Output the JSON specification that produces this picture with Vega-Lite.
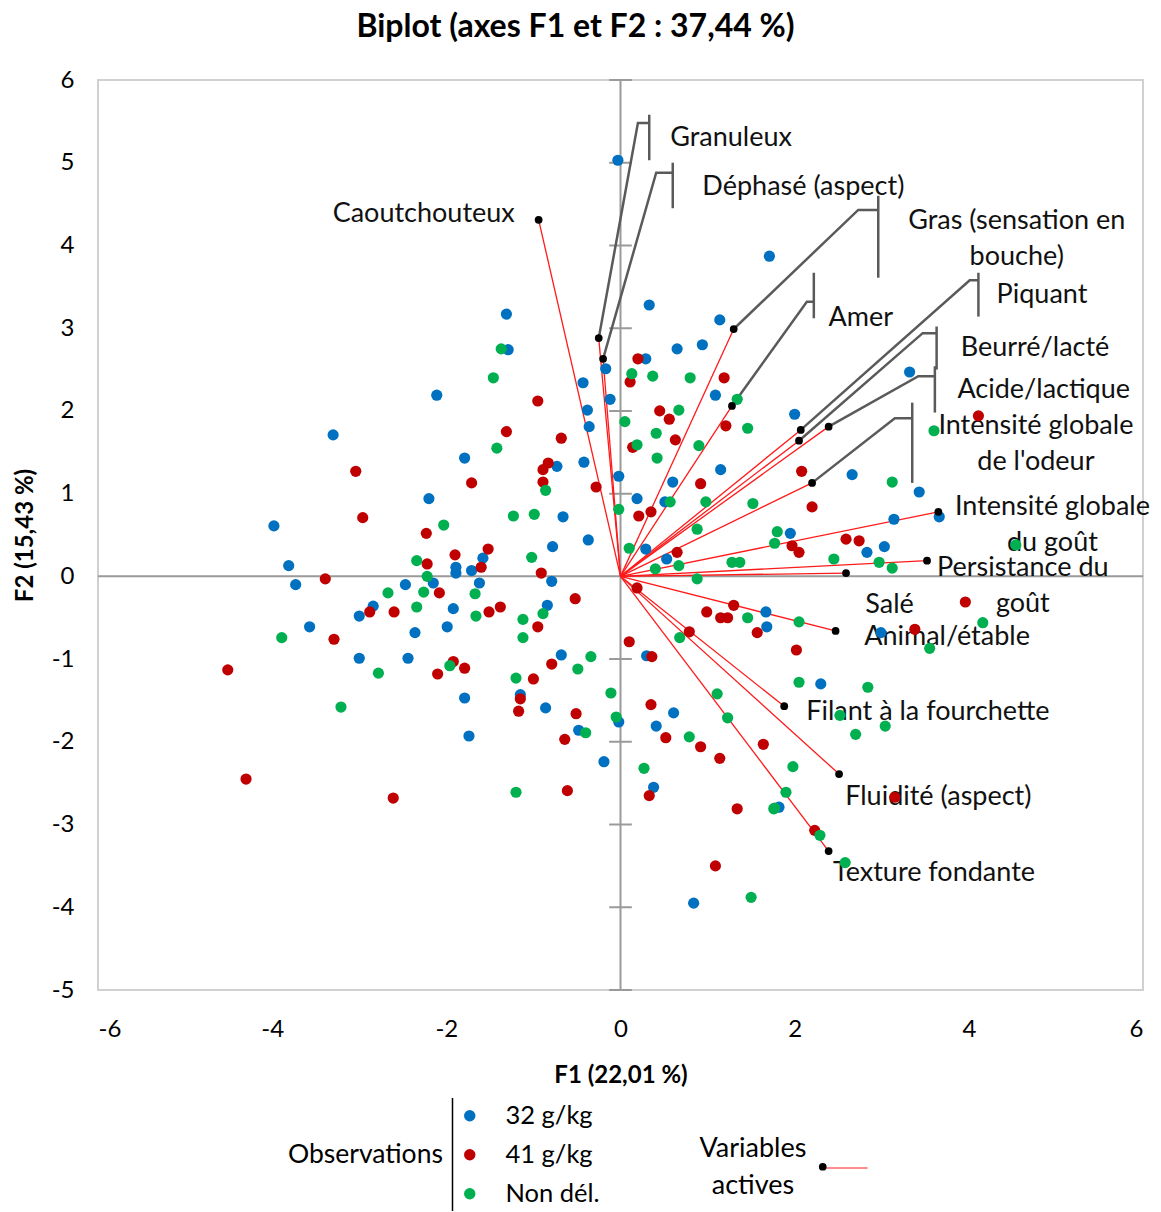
{
  "$schema": "https://vega.github.io/schema/vega-lite/v6.json",
  "width": 1045,
  "height": 910,
  "autosize": {"type": "none"},
  "padding": {"left": 98, "top": 80, "right": 18, "bottom": 222},
  "title": {"text": "Biplot (axes F1 et F2 : 37,44 %)", "font": "Lato", "fontSize": 32, "fontWeight": "bold", "color": "#000", "anchor": "middle", "frame": "group", "offset": 24, "dx": -45},
  "config": {
    "view": {"stroke": "#d0d0d0", "strokeWidth": 2},
    "axis": {"grid": false, "domain": false, "ticks": false, "labelFont": "Lato", "labelFontSize": 24, "labelColor": "#000", "titleFont": "Lato", "titleFontSize": 24, "titleFontWeight": "bold", "titleColor": "#000", "labelPadding": 24, "labelExpr": "'' + datum.value"},
    "axisX": {"titlePadding": 22, "labelPadding": 27},
    "axisY": {"titlePadding": 14},
    "legend": {"labelFont": "Lato", "titleFont": "Lato", "labelFontSize": 25.5, "titleFontSize": 26.5, "titleFontWeight": "normal", "labelColor": "#000", "titleColor": "#000", "padding": 0}
  },
  "datasets": {
    "obs": [
      {"g":"32 g/kg","x":-0.03,"y":5.03},{"g":"32 g/kg","x":0.33,"y":3.28},{"g":"32 g/kg","x":1.71,"y":3.87},{"g":"32 g/kg","x":-1.31,"y":3.17},{"g":"32 g/kg","x":-1.29,"y":2.74},{"g":"32 g/kg","x":-3.30,"y":1.71},{"g":"32 g/kg","x":-2.11,"y":2.19},{"g":"32 g/kg","x":1.14,"y":3.10},{"g":"32 g/kg","x":0.65,"y":2.75},{"g":"32 g/kg","x":0.94,"y":2.80},{"g":"32 g/kg","x":0.29,"y":2.63},{"g":"32 g/kg","x":-0.17,"y":2.51},{"g":"32 g/kg","x":-0.43,"y":2.34},{"g":"32 g/kg","x":-0.12,"y":2.14},{"g":"32 g/kg","x":-0.38,"y":2.01},{"g":"32 g/kg","x":-0.36,"y":1.81},{"g":"32 g/kg","x":1.09,"y":2.19},{"g":"32 g/kg","x":2.00,"y":1.96},{"g":"32 g/kg","x":3.32,"y":2.47},{"g":"32 g/kg","x":1.15,"y":1.29},{"g":"32 g/kg","x":-0.73,"y":1.33},{"g":"32 g/kg","x":-0.42,"y":1.38},{"g":"32 g/kg","x":-0.02,"y":1.21},{"g":"32 g/kg","x":0.19,"y":0.94},{"g":"32 g/kg","x":0.60,"y":1.14},{"g":"32 g/kg","x":2.66,"y":1.23},{"g":"32 g/kg","x":3.43,"y":1.02},{"g":"32 g/kg","x":3.66,"y":0.72},{"g":"32 g/kg","x":3.14,"y":0.69},{"g":"32 g/kg","x":1.95,"y":0.52},{"g":"32 g/kg","x":2.83,"y":0.29},{"g":"32 g/kg","x":3.03,"y":0.36},{"g":"32 g/kg","x":0.51,"y":0.90},{"g":"32 g/kg","x":0.29,"y":0.33},{"g":"32 g/kg","x":0.53,"y":0.21},{"g":"32 g/kg","x":-0.66,"y":0.72},{"g":"32 g/kg","x":-0.37,"y":0.44},{"g":"32 g/kg","x":-0.78,"y":0.36},{"g":"32 g/kg","x":-0.79,"y":-0.06},{"g":"32 g/kg","x":-1.79,"y":1.43},{"g":"32 g/kg","x":-2.20,"y":0.94},{"g":"32 g/kg","x":-3.98,"y":0.61},{"g":"32 g/kg","x":-1.58,"y":0.22},{"g":"32 g/kg","x":-1.89,"y":0.11},{"g":"32 g/kg","x":-1.89,"y":0.04},{"g":"32 g/kg","x":-1.71,"y":0.07},{"g":"32 g/kg","x":-3.81,"y":0.13},{"g":"32 g/kg","x":-3.73,"y":-0.10},{"g":"32 g/kg","x":-2.15,"y":-0.08},{"g":"32 g/kg","x":-2.47,"y":-0.10},{"g":"32 g/kg","x":-1.62,"y":-0.08},{"g":"32 g/kg","x":-2.84,"y":-0.36},{"g":"32 g/kg","x":-3.00,"y":-0.48},{"g":"32 g/kg","x":-1.92,"y":-0.39},{"g":"32 g/kg","x":-3.57,"y":-0.61},{"g":"32 g/kg","x":-1.99,"y":-0.61},{"g":"32 g/kg","x":-2.36,"y":-0.68},{"g":"32 g/kg","x":-3.00,"y":-0.99},{"g":"32 g/kg","x":-2.44,"y":-0.99},{"g":"32 g/kg","x":-1.79,"y":-1.47},{"g":"32 g/kg","x":-1.74,"y":-1.93},{"g":"32 g/kg","x":-0.84,"y":-0.35},{"g":"32 g/kg","x":1.67,"y":-0.43},{"g":"32 g/kg","x":1.68,"y":-0.61},{"g":"32 g/kg","x":-0.68,"y":-0.95},{"g":"32 g/kg","x":0.30,"y":-0.96},{"g":"32 g/kg","x":-1.15,"y":-1.43},{"g":"32 g/kg","x":-0.86,"y":-1.59},{"g":"32 g/kg","x":-0.02,"y":-1.76},{"g":"32 g/kg","x":-0.48,"y":-1.86},{"g":"32 g/kg","x":0.61,"y":-1.65},{"g":"32 g/kg","x":0.41,"y":-1.81},{"g":"32 g/kg","x":-0.19,"y":-2.24},{"g":"32 g/kg","x":0.38,"y":-2.55},{"g":"32 g/kg","x":0.84,"y":-3.95},{"g":"32 g/kg","x":2.99,"y":-0.68},{"g":"32 g/kg","x":2.30,"y":-1.30},{"g":"32 g/kg","x":1.82,"y":-2.79},
      {"g":"41 g/kg","x":0.20,"y":2.63},{"g":"41 g/kg","x":0.11,"y":2.35},{"g":"41 g/kg","x":1.19,"y":2.40},{"g":"41 g/kg","x":-0.95,"y":2.12},{"g":"41 g/kg","x":0.45,"y":2.00},{"g":"41 g/kg","x":0.56,"y":1.90},{"g":"41 g/kg","x":1.21,"y":1.82},{"g":"41 g/kg","x":-1.31,"y":1.75},{"g":"41 g/kg","x":-0.68,"y":1.67},{"g":"41 g/kg","x":0.63,"y":1.65},{"g":"41 g/kg","x":0.14,"y":1.56},{"g":"41 g/kg","x":-0.83,"y":1.37},{"g":"41 g/kg","x":-0.89,"y":1.29},{"g":"41 g/kg","x":-0.89,"y":1.14},{"g":"41 g/kg","x":0.92,"y":1.12},{"g":"41 g/kg","x":-0.28,"y":1.08},{"g":"41 g/kg","x":0.21,"y":0.73},{"g":"41 g/kg","x":0.35,"y":0.78},{"g":"41 g/kg","x":0.65,"y":0.29},{"g":"41 g/kg","x":-1.52,"y":0.33},{"g":"41 g/kg","x":-0.91,"y":0.04},{"g":"41 g/kg","x":0.19,"y":-0.14},{"g":"41 g/kg","x":-3.04,"y":1.27},{"g":"41 g/kg","x":-1.71,"y":1.13},{"g":"41 g/kg","x":-2.96,"y":0.71},{"g":"41 g/kg","x":-2.23,"y":0.52},{"g":"41 g/kg","x":-1.90,"y":0.26},{"g":"41 g/kg","x":-2.22,"y":0.15},{"g":"41 g/kg","x":-1.60,"y":0.11},{"g":"41 g/kg","x":-3.39,"y":-0.03},{"g":"41 g/kg","x":-2.08,"y":-0.20},{"g":"41 g/kg","x":-2.88,"y":-0.43},{"g":"41 g/kg","x":-2.60,"y":-0.43},{"g":"41 g/kg","x":-1.51,"y":-0.43},{"g":"41 g/kg","x":-1.38,"y":-0.37},{"g":"41 g/kg","x":-3.29,"y":-0.76},{"g":"41 g/kg","x":-4.51,"y":-1.13},{"g":"41 g/kg","x":-1.92,"y":-1.03},{"g":"41 g/kg","x":-1.79,"y":-1.11},{"g":"41 g/kg","x":-2.10,"y":-1.18},{"g":"41 g/kg","x":-4.30,"y":-2.45},{"g":"41 g/kg","x":-2.61,"y":-2.68},{"g":"41 g/kg","x":-0.52,"y":-0.27},{"g":"41 g/kg","x":-0.95,"y":-0.61},{"g":"41 g/kg","x":-1.00,"y":-1.24},{"g":"41 g/kg","x":-1.15,"y":-1.48},{"g":"41 g/kg","x":-1.17,"y":-1.63},{"g":"41 g/kg","x":-0.51,"y":-1.66},{"g":"41 g/kg","x":-0.64,"y":-1.97},{"g":"41 g/kg","x":0.36,"y":-0.97},{"g":"41 g/kg","x":0.35,"y":-1.55},{"g":"41 g/kg","x":0.52,"y":-1.95},{"g":"41 g/kg","x":0.92,"y":-2.06},{"g":"41 g/kg","x":1.14,"y":-2.20},{"g":"41 g/kg","x":1.64,"y":-2.03},{"g":"41 g/kg","x":0.33,"y":-2.65},{"g":"41 g/kg","x":-0.61,"y":-2.59},{"g":"41 g/kg","x":1.34,"y":-2.81},{"g":"41 g/kg","x":1.09,"y":-3.50},{"g":"41 g/kg","x":1.30,"y":-0.35},{"g":"41 g/kg","x":0.99,"y":-0.43},{"g":"41 g/kg","x":1.15,"y":-0.50},{"g":"41 g/kg","x":1.23,"y":-0.50},{"g":"41 g/kg","x":1.57,"y":-0.68},{"g":"41 g/kg","x":0.79,"y":-0.67},{"g":"41 g/kg","x":0.10,"y":-0.79},{"g":"41 g/kg","x":-0.79,"y":-1.06},{"g":"41 g/kg","x":4.11,"y":1.94},{"g":"41 g/kg","x":2.08,"y":1.27},{"g":"41 g/kg","x":2.20,"y":0.84},{"g":"41 g/kg","x":1.97,"y":0.37},{"g":"41 g/kg","x":2.05,"y":0.29},{"g":"41 g/kg","x":2.59,"y":0.45},{"g":"41 g/kg","x":2.74,"y":0.43},{"g":"41 g/kg","x":3.96,"y":-0.31},{"g":"41 g/kg","x":3.38,"y":-0.64},{"g":"41 g/kg","x":2.02,"y":-0.89},{"g":"41 g/kg","x":3.15,"y":-2.67},{"g":"41 g/kg","x":2.23,"y":-3.07},
      {"g":"Non dél.","x":-1.37,"y":2.75},{"g":"Non dél.","x":-1.46,"y":2.40},{"g":"Non dél.","x":-1.42,"y":1.55},{"g":"Non dél.","x":-2.03,"y":0.62},{"g":"Non dél.","x":-2.34,"y":0.19},{"g":"Non dél.","x":-2.22,"y":0.00},{"g":"Non dél.","x":-2.26,"y":-0.19},{"g":"Non dél.","x":-2.67,"y":-0.20},{"g":"Non dél.","x":-1.67,"y":-0.21},{"g":"Non dél.","x":-2.34,"y":-0.37},{"g":"Non dél.","x":-1.66,"y":-0.48},{"g":"Non dél.","x":-3.89,"y":-0.74},{"g":"Non dél.","x":-2.78,"y":-1.17},{"g":"Non dél.","x":-1.96,"y":-1.08},{"g":"Non dél.","x":-3.21,"y":-1.58},{"g":"Non dél.","x":0.13,"y":2.45},{"g":"Non dél.","x":0.37,"y":2.42},{"g":"Non dél.","x":0.80,"y":2.40},{"g":"Non dél.","x":1.34,"y":2.14},{"g":"Non dél.","x":0.67,"y":2.01},{"g":"Non dél.","x":0.05,"y":1.87},{"g":"Non dél.","x":1.46,"y":1.79},{"g":"Non dél.","x":0.41,"y":1.73},{"g":"Non dél.","x":0.19,"y":1.59},{"g":"Non dél.","x":0.90,"y":1.58},{"g":"Non dél.","x":0.42,"y":1.43},{"g":"Non dél.","x":-0.86,"y":1.04},{"g":"Non dél.","x":1.52,"y":0.88},{"g":"Non dél.","x":0.57,"y":0.90},{"g":"Non dél.","x":0.98,"y":0.90},{"g":"Non dél.","x":-0.02,"y":0.81},{"g":"Non dél.","x":-1.23,"y":0.73},{"g":"Non dél.","x":-0.99,"y":0.75},{"g":"Non dél.","x":0.88,"y":0.57},{"g":"Non dél.","x":1.80,"y":0.54},{"g":"Non dél.","x":1.77,"y":0.40},{"g":"Non dél.","x":-1.02,"y":0.23},{"g":"Non dél.","x":0.10,"y":0.34},{"g":"Non dél.","x":0.40,"y":0.09},{"g":"Non dél.","x":0.67,"y":0.13},{"g":"Non dél.","x":1.28,"y":0.17},{"g":"Non dél.","x":1.37,"y":0.17},{"g":"Non dél.","x":0.88,"y":-0.03},{"g":"Non dél.","x":-0.89,"y":-0.45},{"g":"Non dél.","x":-1.12,"y":-0.52},{"g":"Non dél.","x":-1.12,"y":-0.74},{"g":"Non dél.","x":1.46,"y":-0.50},{"g":"Non dél.","x":0.68,"y":-0.74},{"g":"Non dél.","x":-0.34,"y":-0.97},{"g":"Non dél.","x":-0.49,"y":-1.12},{"g":"Non dél.","x":-1.20,"y":-1.23},{"g":"Non dél.","x":-0.11,"y":-1.41},{"g":"Non dél.","x":-0.05,"y":-1.70},{"g":"Non dél.","x":-0.40,"y":-1.89},{"g":"Non dél.","x":0.79,"y":-1.94},{"g":"Non dél.","x":1.11,"y":-1.42},{"g":"Non dél.","x":1.23,"y":-1.71},{"g":"Non dél.","x":0.27,"y":-2.32},{"g":"Non dél.","x":-1.20,"y":-2.61},{"g":"Non dél.","x":1.76,"y":-2.81},{"g":"Non dél.","x":1.50,"y":-3.88},{"g":"Non dél.","x":3.60,"y":1.76},{"g":"Non dél.","x":3.12,"y":1.14},{"g":"Non dél.","x":2.45,"y":0.21},{"g":"Non dél.","x":2.97,"y":0.17},{"g":"Non dél.","x":3.12,"y":0.10},{"g":"Non dél.","x":4.54,"y":0.38},{"g":"Non dél.","x":2.05,"y":-0.55},{"g":"Non dél.","x":4.16,"y":-0.56},{"g":"Non dél.","x":3.55,"y":-0.87},{"g":"Non dél.","x":2.05,"y":-1.28},{"g":"Non dél.","x":2.84,"y":-1.34},{"g":"Non dél.","x":2.52,"y":-1.68},{"g":"Non dél.","x":3.04,"y":-1.81},{"g":"Non dél.","x":2.70,"y":-1.91},{"g":"Non dél.","x":1.98,"y":-2.30},{"g":"Non dél.","x":1.90,"y":-2.61},{"g":"Non dél.","x":1.77,"y":-2.80},{"g":"Non dél.","x":2.29,"y":-3.13},{"g":"Non dél.","x":2.58,"y":-3.46}
    ],
    "vars": [
      {"name":"Caoutchouteux","x":-0.94,"y":4.31,"lx":-2.26,"ly":4.38},
      {"name":"Granuleux","x":-0.25,"y":2.88,"lx":1.27,"ly":5.30},
      {"name":"Déphasé (aspect)","x":-0.20,"y":2.63,"lx":2.10,"ly":4.71},
      {"name":"Gras (sensation en\nbouche)","x":1.30,"y":2.99,"lx":4.55,"ly":4.30},
      {"name":"Amer","x":1.28,"y":2.06,"lx":2.76,"ly":3.12},
      {"name":"Piquant","x":2.07,"y":1.77,"lx":4.84,"ly":3.40},
      {"name":"Beurré/lacté","x":2.05,"y":1.64,"lx":4.76,"ly":2.76},
      {"name":"Acide/lactique","x":2.39,"y":1.81,"lx":4.86,"ly":2.25},
      {"name":"Intensité globale\nde l'odeur","x":2.20,"y":1.13,"lx":4.77,"ly":1.82},
      {"name":"Intensité globale\ndu goût","x":3.65,"y":0.78,"lx":4.96,"ly":0.84},
      {"name":"Persistance du\ngoût","x":3.52,"y":0.19,"lx":4.62,"ly":0.10},
      {"name":"Salé","x":2.59,"y":0.04,"lx":3.09,"ly":-0.35},
      {"name":"Animal/étable","x":2.47,"y":-0.66,"lx":3.75,"ly":-0.73},
      {"name":"Filant à la fourchette","x":1.88,"y":-1.57,"lx":3.53,"ly":-1.64},
      {"name":"Fluidité (aspect)","x":2.51,"y":-2.39,"lx":3.65,"ly":-2.67},
      {"name":"Texture fondante","x":2.39,"y":-3.32,"lx":3.60,"ly":-3.59}
    ],
    "leaders": [
      {"v":"Granuleux","o":1,"x":-0.25,"y":2.88},{"v":"Granuleux","o":2,"x":0.20,"y":5.48},{"v":"Granuleux","o":3,"x":0.33,"y":5.48},
      {"v":"Déphasé","o":1,"x":-0.20,"y":2.63},{"v":"Déphasé","o":2,"x":0.41,"y":4.88},{"v":"Déphasé","o":3,"x":0.60,"y":4.88},
      {"v":"Gras","o":1,"x":1.30,"y":2.99},{"v":"Gras","o":2,"x":2.73,"y":4.43},{"v":"Gras","o":3,"x":2.96,"y":4.43},
      {"v":"Amer","o":1,"x":1.28,"y":2.06},{"v":"Amer","o":2,"x":2.14,"y":3.32},{"v":"Amer","o":3,"x":2.22,"y":3.32},
      {"v":"Piquant","o":1,"x":2.07,"y":1.77},{"v":"Piquant","o":2,"x":4.01,"y":3.58},{"v":"Piquant","o":3,"x":4.11,"y":3.58},
      {"v":"Beurré","o":1,"x":2.05,"y":1.64},{"v":"Beurré","o":2,"x":3.47,"y":2.94},{"v":"Beurré","o":3,"x":3.63,"y":2.94},
      {"v":"Acide","o":1,"x":2.39,"y":1.81},{"v":"Acide","o":2,"x":3.42,"y":2.42},{"v":"Acide","o":3,"x":3.61,"y":2.42},
      {"v":"Odeur","o":1,"x":2.20,"y":1.13},{"v":"Odeur","o":2,"x":3.15,"y":1.91},{"v":"Odeur","o":3,"x":3.35,"y":1.91}
    ],
    "brackets": [
      {"v":"Granuleux","x":0.33,"y":5.58,"y2":5.03},
      {"v":"Déphasé","x":0.60,"y":5.00,"y2":4.45},
      {"v":"Gras","x":2.96,"y":4.60,"y2":3.61},
      {"v":"Amer","x":2.22,"y":3.67,"y2":3.12},
      {"v":"Piquant","x":4.11,"y":3.67,"y2":3.14},
      {"v":"Beurré","x":3.63,"y":3.02,"y2":2.50},
      {"v":"Acide","x":3.61,"y":2.54,"y2":1.98},
      {"v":"Odeur","x":3.35,"y":2.10,"y2":1.13}
    ],
    "yticks": [{"y":-5},{"y":-4},{"y":-3},{"y":-2},{"y":-1},{"y":1},{"y":2},{"y":3},{"y":4},{"y":5},{"y":6}]
  },
  "layer": [
    {
      "data": {"values": [{}]},
      "mark": {"type": "rule", "color": "#9a9a9a", "strokeWidth": 2},
      "encoding": {"y": {"datum": 0, "type": "quantitative"}}
    },
    {
      "data": {"values": [{}]},
      "mark": {"type": "rule", "color": "#9a9a9a", "strokeWidth": 2},
      "encoding": {"x": {"datum": 0, "type": "quantitative"}}
    },
    {
      "data": {"name": "yticks"},
      "mark": {"type": "rule", "color": "#9a9a9a", "strokeWidth": 2},
      "encoding": {
        "x": {"datum": -0.13, "type": "quantitative"},
        "x2": {"datum": 0.13},
        "y": {"field": "y", "type": "quantitative", "title": "F2 (15,43 %)"},
        "strokeDash": {"datum": "sep", "scale": {"range": [[1, 0]]}, "legend": {"orient": "none", "legendX": 297, "legendY": 1017, "title": null, "labelExpr": "''", "symbolSize": 12769, "symbolType": "M0,-1L0,1", "symbolStrokeColor": "#000", "symbolStrokeWidth": 1.5, "labelOffset": 0}}
      }
    },
    {
      "data": {"name": "vars"},
      "mark": {"type": "rule", "color": "#ff1a1a", "strokeWidth": 1.3},
      "encoding": {
        "x": {"field": "x", "type": "quantitative", "title": "F1 (22,01 %)"},
        "x2": {"datum": 0},
        "y": {"field": "y", "type": "quantitative", "title": "F2 (15,43 %)"},
        "y2": {"datum": 0},
        "strokeWidth": {"datum": "ligne", "type": "ordinal", "scale": {"range": [1.3]}, "legend": {"orient": "none", "legendX": 747, "legendY": 1088, "title": null, "labelExpr": "''", "symbolType": "stroke", "symbolSize": 2025, "symbolStrokeColor": "#ff1a1a", "labelOffset": 0}}
      }
    },
    {
      "data": {"name": "leaders"},
      "mark": {"type": "line", "color": "#5a5a5a", "strokeWidth": 2.5},
      "encoding": {
        "x": {"field": "x", "type": "quantitative", "title": "F1 (22,01 %)"},
        "y": {"field": "y", "type": "quantitative", "title": "F2 (15,43 %)"},
        "detail": {"field": "v"},
        "order": {"field": "o"}
      }
    },
    {
      "data": {"name": "brackets"},
      "mark": {"type": "rule", "color": "#5a5a5a", "strokeWidth": 2.5},
      "encoding": {
        "x": {"field": "x", "type": "quantitative", "title": "F1 (22,01 %)"},
        "y": {"field": "y", "type": "quantitative", "title": "F2 (15,43 %)"},
        "y2": {"field": "y2"}
      }
    },
    {
      "data": {"name": "vars"},
      "mark": {"type": "text", "font": "Lato", "fontSize": 27, "color": "#111", "align": "center", "baseline": "middle", "lineBreak": "\n", "lineHeight": 36},
      "encoding": {
        "x": {"field": "lx", "type": "quantitative", "title": "F1 (22,01 %)"},
        "y": {"field": "ly", "type": "quantitative", "title": "F2 (15,43 %)"},
        "text": {"field": "name"}
      }
    },
    {
      "data": {"name": "obs"},
      "mark": {"type": "point", "filled": true, "size": 125, "opacity": 1},
      "encoding": {
        "x": {"field": "x", "type": "quantitative", "scale": {"domain": [-6, 6], "nice": false, "zero": false}, "axis": {"values": [-6, -4, -2, 0, 2, 4, 6]}, "title": "F1 (22,01 %)"},
        "y": {"field": "y", "type": "quantitative", "scale": {"domain": [-5, 6], "nice": false, "zero": false}, "axis": {"values": [-5, -4, -3, -2, -1, 0, 1, 2, 3, 4, 5, 6]}, "title": "F2 (15,43 %)"},
        "color": {"field": "g", "type": "nominal", "scale": {"domain": ["32 g/kg", "41 g/kg", "Non dél."], "range": ["#0070c0", "#c00000", "#00b050"]},
          "legend": {"orient": "none", "legendX": 190, "legendY": 1023, "title": "Observations", "titleOrient": "left", "titleAnchor": "middle", "titleBaseline": "middle", "titlePadding": 14, "labelOffset": 23, "symbolType": "circle", "symbolSize": 130, "rowPadding": 12}}
      }
    },
    {
      "data": {"name": "vars"},
      "mark": {"type": "point", "filled": true, "size": 60, "color": "#000", "opacity": 1},
      "encoding": {
        "x": {"field": "x", "type": "quantitative", "title": "F1 (22,01 %)"},
        "y": {"field": "y", "type": "quantitative", "title": "F2 (15,43 %)"},
        "shape": {"datum": "Variables actives", "scale": {"range": ["circle"]},
          "legend": {"orient": "none", "legendX": 602, "legendY": 1074, "title": ["Variables", "actives"], "titleOrient": "left", "titleAnchor": "middle", "titleBaseline": "middle", "titleAlign": "center", "titleFontSize": 27, "titleLineHeight": 37, "titlePadding": -50, "labelExpr": "''", "symbolSize": 60, "labelOffset": 0}}
      }
    }
  ]
}
